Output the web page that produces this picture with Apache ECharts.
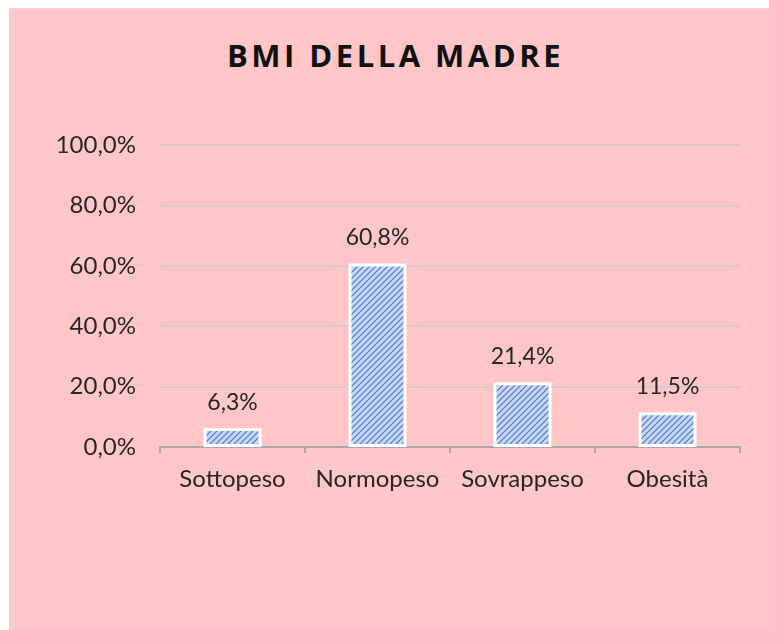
<!DOCTYPE html>
<html>
<head>
<meta charset="utf-8">
<script src="https://cdn.jsdelivr.net/npm/echarts@6/dist/echarts.min.js"></script>
<style>
  html, body { margin: 0; padding: 0; background: #ffffff; }
  #panel {
    position: absolute; left: 9px; top: 8px; width: 760px; height: 622px;
    background: #fec6c6; border-left: 1px solid #e0d0d0; border-top: 1px solid #e8dada;
  }
  #title {
    position: absolute; left: 0; top: 36px; width: 769px; margin: 0;
    text-align: center; font-family: "Open Sans", sans-serif; font-weight: bold;
    font-size: 31px; line-height: 38px; letter-spacing: 3.5px; color: #111;
    padding-left: 22px; box-sizing: border-box;
  }
  #chart { width: 769px; height: 630px; position: absolute; left: 0; top: 0; }
</style>
</head>
<body>
<div id="panel"></div>
<h1 id="title"></h1>
<div id="chart"></div>
<script>
// --- DATI ---
const categories = ["Sottopeso", "Normopeso", "Sovrappeso", "Obesità"];
const values = [6.3, 60.8, 21.4, 11.5];
const titleText = "BMI DELLA MADRE";

document.getElementById("title").textContent = titleText;

// motivo a righe diagonali per le barre
function makeHatch() {
  const c = document.createElement("canvas");
  c.width = 6;
  c.height = 6;
  const ctx = c.getContext("2d");
  ctx.fillStyle = "#c6d6f3";
  ctx.fillRect(0, 0, 6, 6);
  ctx.strokeStyle = "#4f78c8";
  ctx.lineWidth = 1.2;
  ctx.beginPath();
  ctx.moveTo(0, 6); ctx.lineTo(6, 0);
  ctx.moveTo(-1, 1); ctx.lineTo(1, -1);
  ctx.moveTo(5, 7); ctx.lineTo(7, 5);
  ctx.stroke();
  return c;
}

const fmt = (v) => v.toFixed(1).replace(".", ",") + "%";

const chart = echarts.init(document.getElementById("chart"));
chart.setOption({
  animation: false,
  textStyle: { fontFamily: "Lato" },
  grid: { left: 160, right: 29, top: 145, bottom: 183, containLabel: false },
  xAxis: {
    type: "category",
    data: categories,
    axisLine: { lineStyle: { color: "#a9a9a9", width: 2 } },
    axisTick: { show: true, length: 6, lineStyle: { color: "#a9a9a9", width: 2 } },
    axisLabel: { color: "#262626", fontSize: 24, margin: 20, interval: 0, hideOverlap: false }
  },
  yAxis: {
    type: "value",
    min: 0,
    max: 100,
    interval: 20,
    axisLine: { show: false },
    axisTick: { show: false },
    splitLine: { lineStyle: { color: "#dac8c8", width: 2 } },
    axisLabel: { color: "#262626", fontSize: 24, margin: 24, formatter: (v) => fmt(v) }
  },
  series: [{
    type: "bar",
    data: values,
    barWidth: 58,
    itemStyle: {
      color: { image: makeHatch(), repeat: "repeat" },
      borderColor: "#ffffff",
      borderWidth: 3
    },
    label: {
      show: true,
      position: "top",
      distance: 14,
      color: "#262626",
      fontSize: 23,
      formatter: (p) => fmt(p.value)
    }
  }]
});
</script>
</body>
</html>
